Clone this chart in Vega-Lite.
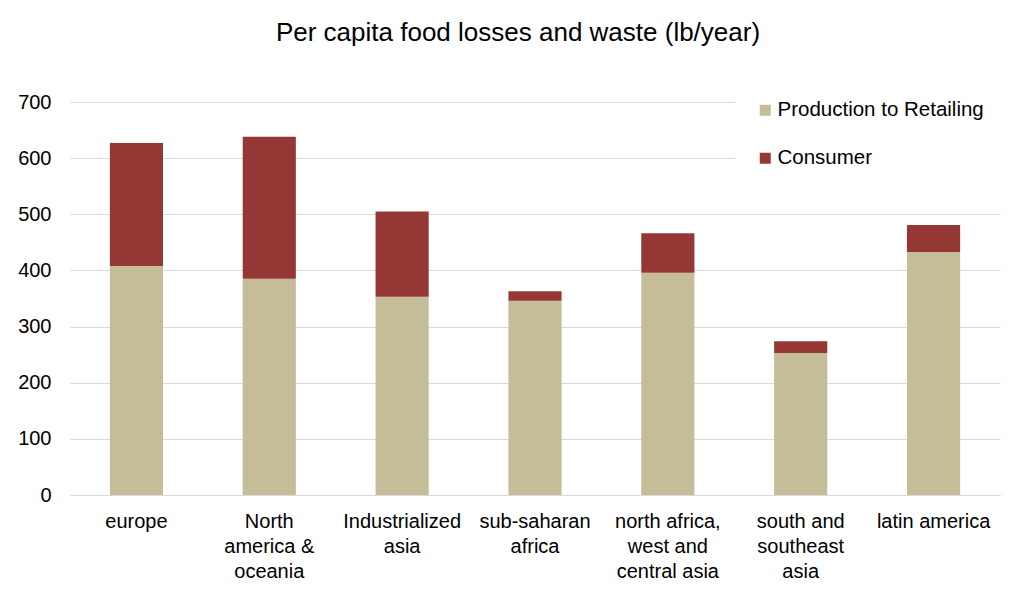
{
  "$schema": "https://vega.github.io/schema/vega-lite/v6.json",
  "autosize": {"type": "none"},
  "padding": {"left": 70, "top": 102, "right": 11, "bottom": 101},
  "width": 930,
  "height": 393,
  "background": "white",
  "title": {
    "text": "Per capita food losses and waste (lb/year)",
    "font": "Liberation Sans",
    "fontSize": 26,
    "fontWeight": "normal",
    "color": "#000000",
    "anchor": "middle",
    "frame": "group",
    "baseline": "alphabetic",
    "offset": 13,
    "dx": -17
  },
  "data": {
    "values": [
      {"region": "europe", "type": "Production to Retailing", "k": 1, "lb": 408},
      {"region": "europe", "type": "Consumer", "k": 2, "lb": 219},
      {"region": "North|america &|oceania", "type": "Production to Retailing", "k": 1, "lb": 385},
      {"region": "North|america &|oceania", "type": "Consumer", "k": 2, "lb": 253},
      {"region": "Industrialized|asia", "type": "Production to Retailing", "k": 1, "lb": 353},
      {"region": "Industrialized|asia", "type": "Consumer", "k": 2, "lb": 152},
      {"region": "sub-saharan|africa", "type": "Production to Retailing", "k": 1, "lb": 346},
      {"region": "sub-saharan|africa", "type": "Consumer", "k": 2, "lb": 17},
      {"region": "north africa,|west and|central asia", "type": "Production to Retailing", "k": 1, "lb": 396},
      {"region": "north africa,|west and|central asia", "type": "Consumer", "k": 2, "lb": 70},
      {"region": "south and|southeast|asia", "type": "Production to Retailing", "k": 1, "lb": 253},
      {"region": "south and|southeast|asia", "type": "Consumer", "k": 2, "lb": 21},
      {"region": "latin america", "type": "Production to Retailing", "k": 1, "lb": 433},
      {"region": "latin america", "type": "Consumer", "k": 2, "lb": 48}
    ]
  },
  "mark": {"type": "bar"},
  "encoding": {
    "x": {
      "field": "region",
      "type": "nominal",
      "sort": null,
      "scale": {"paddingInner": 0.6, "paddingOuter": 0.3},
      "axis": {
        "title": null,
        "labelAngle": 0,
        "labelExpr": "split(datum.label, '|')",
        "labelFont": "Liberation Sans",
        "labelFontSize": 20,
        "labelColor": "#000000",
        "labelLineHeight": 25,
        "labelPadding": 16,
        "labelLimit": 0,
        "ticks": false,
        "domain": true,
        "domainColor": "#D9D9D9",
        "domainWidth": 1,
        "grid": false
      }
    },
    "y": {
      "field": "lb",
      "type": "quantitative",
      "stack": "zero",
      "scale": {"domain": [0, 700], "nice": false},
      "axis": {
        "title": null,
        "values": [0, 100, 200, 300, 400, 500, 600, 700],
        "labelFont": "Liberation Sans",
        "labelFontSize": 20,
        "labelColor": "#000000",
        "labelPadding": 19,
        "ticks": false,
        "domain": false,
        "grid": true,
        "gridColor": "#D9D9D9",
        "gridWidth": 1,
        "minExtent": 70,
        "maxExtent": 70
      }
    },
    "color": {
      "field": "type",
      "type": "nominal",
      "scale": {
        "domain": ["Production to Retailing", "Consumer"],
        "range": ["#C4BD97", "#953735"]
      },
      "legend": {
        "title": null,
        "orient": "none",
        "legendX": 665,
        "legendY": -22,
        "padding": 20,
        "fillColor": "white",
        "symbolType": "square",
        "symbolSize": 121,
        "symbolStrokeWidth": 0,
        "labelFont": "Liberation Sans",
        "labelFontSize": 20.5,
        "labelColor": "#000000",
        "labelOffset": 2,
        "labelLimit": 0,
        "rowPadding": 27
      }
    },
    "order": {"field": "k", "type": "quantitative"}
  },
  "config": {
    "view": {"stroke": null},
    "axis": {"gridOpacity": 1}
  }
}
